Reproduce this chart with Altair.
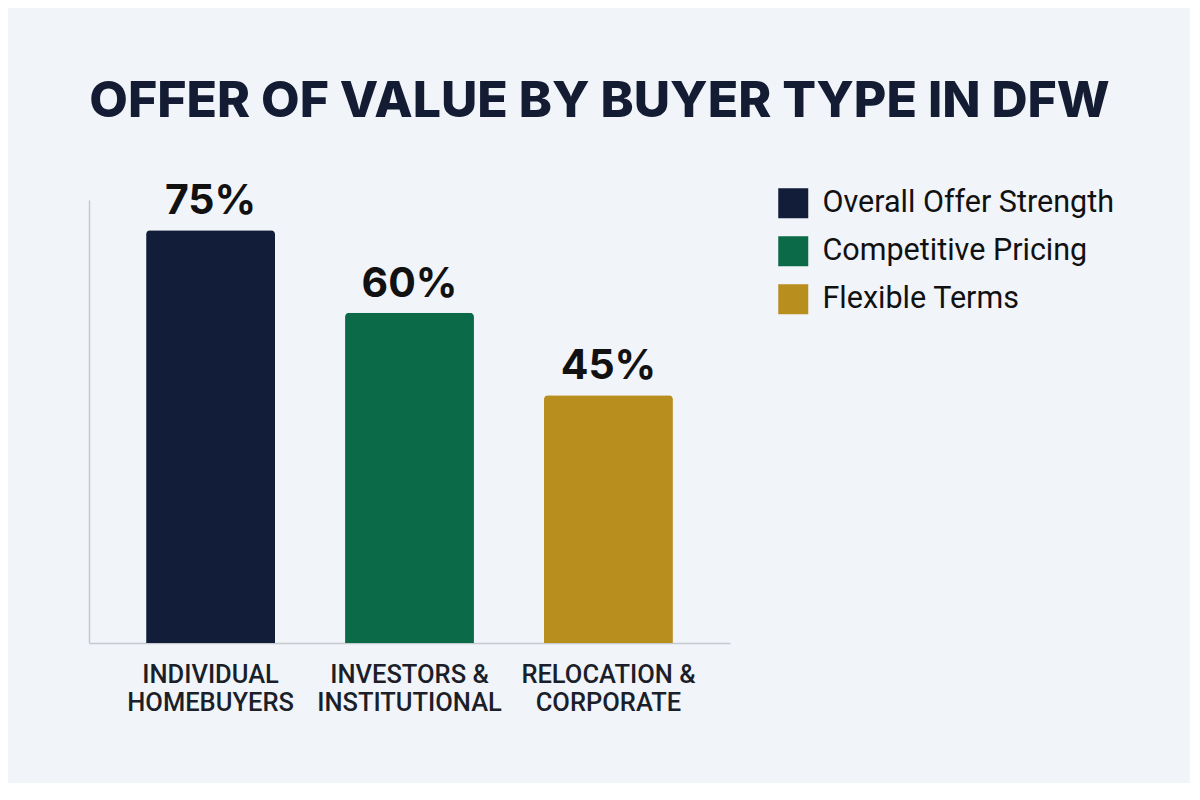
import altair as alt
import pandas as pd

categories = ["INDIVIDUAL|HOMEBUYERS", "INVESTORS &|INSTITUTIONAL", "RELOCATION &|CORPORATE"]
series = ["Overall Offer Strength", "Competitive Pricing", "Flexible Terms"]
values = [75, 60, 45]
labels = ["75%", "60%", "45%"]
colors = ["#121e39", "#0b6a48", "#b88e1f"]

df = pd.DataFrame({"category": categories, "series": series, "value": values, "label": labels})

x = alt.X(
    "category:N",
    sort=categories,
    scale=alt.Scale(paddingInner=0.352, paddingOuter=0.287),
    axis=alt.Axis(
        title=None,
        labelExpr="split(datum.label, '|')",
        labelAngle=0,
        labelFont="Roboto",
        labelFontWeight=500,
        labelFontSize=25.5,
        labelColor="#1b1f2a",
        labelLineHeight=28,
        labelPadding=19,
        ticks=False,
        domainColor="#c5c9d0",
        domainWidth=1.5,
        labelLimit=300,
    ),
)
y = alt.Y(
    "value:Q",
    scale=alt.Scale(domain=[0, 80.5], nice=False),
    axis=alt.Axis(title=None, labels=False, ticks=False, grid=False,
                  domainColor="#c5c9d0", domainWidth=1.5),
)

bars = alt.Chart(df).mark_bar(cornerRadiusTopLeft=4, cornerRadiusTopRight=4).encode(
    x=x,
    y=y,
    color=alt.Color(
        "series:N",
        scale=alt.Scale(domain=series, range=colors),
        legend=alt.Legend(
            title=None, orient="none", legendX=689, legendY=-12,
            symbolType="square", symbolSize=900, symbolStrokeWidth=0,
            symbolOpacity=1, labelFont="Roboto", labelFontSize=30.5,
            labelColor="#111111", labelOffset=14, rowPadding=17,
            padding=0, labelLimit=400,
        ),
    ),
)

text = alt.Chart(df).mark_text(
    font="Inter", fontSize=41, fontWeight=700, color="#111111",
    baseline="alphabetic", dy=-16,
).encode(x=alt.X("category:N", sort=categories), y="value:Q", text="label:N")

chart = alt.layer(bars, text).properties(
    width=641,
    height=443,
    autosize="none",
    padding={"left": 81, "top": 192, "right": 460, "bottom": 140},
    title=alt.TitleParams(
        "OFFER OF VALUE BY BUYER TYPE IN DFW",
        anchor="middle", frame="group", dx=190, offset=14,
        font="Inter", fontSize=50, fontWeight=800, color="#141c33",
        baseline="alphabetic",
    ),
).configure(background="#f1f4f9").configure_view(stroke=None)

chart.save("out.html", embed_options={"renderer": "svg", "actions": False})
